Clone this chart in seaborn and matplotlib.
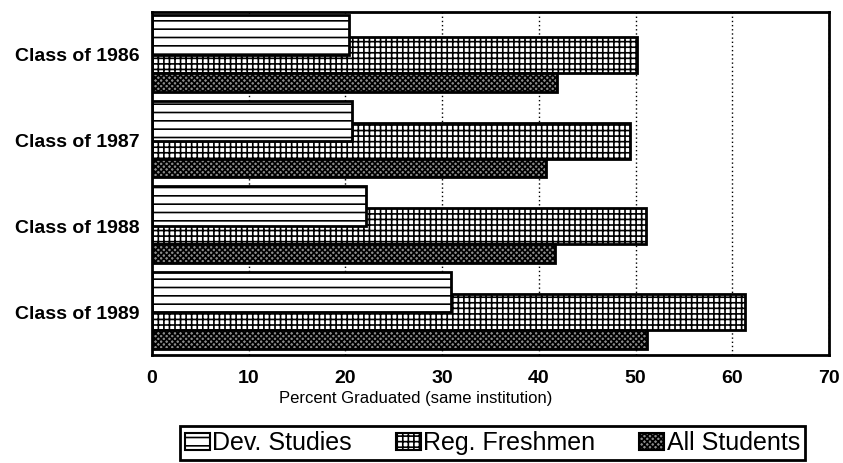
import pandas as pd
import matplotlib.pyplot as plt
import seaborn as sns
from matplotlib.patches import Patch

# Data
classes = ['Class of 1986', 'Class of 1987', 'Class of 1988', 'Class of 1989']
dev_studies = [20.4, 20.7, 22.1, 30.9]
reg_freshmen = [50.2, 49.4, 51.1, 61.3]
all_students = [41.9, 40.7, 41.7, 51.2]
series_names = ['Dev. Studies', 'Reg. Freshmen', 'All Students']

df = pd.DataFrame({'Class': classes, 'Dev. Studies': dev_studies,
                   'Reg. Freshmen': reg_freshmen, 'All Students': all_students})

sns.set_style('white')
plt.rcParams['font.family'] = ['Liberation Sans', 'DejaVu Sans']
plt.rcParams['text.color'] = 'black'
plt.rcParams['xtick.color'] = 'black'
plt.rcParams['ytick.color'] = 'black'
plt.rcParams['axes.labelcolor'] = 'black'
plt.rcParams['hatch.linewidth'] = 1.2
plt.rcParams['hatch.color'] = 'black'

fig = plt.figure(figsize=(8.43, 4.63), dpi=100)
ax = fig.add_axes([0.1803, 0.2333, 0.803, 0.741])

# style per series: (facecolor, hatch, bar height, offset from category centre)
styles = {
    'Reg. Freshmen': ('white', '+++', 0.42, 0.0),
    'Dev. Studies': ('white', '--', 0.466, -0.233),
    'All Students': ('0.55', 'xxxxxx', 0.22, 0.32),
}

# draw Reg. Freshmen first so Dev. Studies sits on top of it
for name in ['Reg. Freshmen', 'Dev. Studies', 'All Students']:
    fc, hatch, h, off = styles[name]
    n_before = len(ax.patches)
    sns.barplot(data=df, x=name, y='Class', orient='h', width=h, color=fc,
                edgecolor='black', linewidth=2, hatch=hatch, ax=ax, errorbar=None)
    for p in ax.patches[n_before:]:
        p.set_facecolor(fc)
        p.set_y(p.get_y() + off)

ax.set_xlim(0, 70)
ax.set_ylim(3.5, -0.5)
ax.set_xticks(range(0, 71, 10))
ax.xaxis.grid(True, linestyle=(0, (1, 2)), color='black', linewidth=1)
ax.set_axisbelow(True)
for s in ax.spines.values():
    s.set_visible(True)
    s.set_color('black')
    s.set_linewidth(2)

ax.tick_params(axis='x', length=0, pad=11, labelsize=14)
ax.tick_params(axis='y', length=0, pad=9, labelsize=14)
for lab in ax.get_xticklabels() + ax.get_yticklabels():
    lab.set_fontweight('bold')
ax.set_ylabel('')
ax.set_xlabel('Percent Graduated (same institution)', fontsize=12, va='center')
ax.xaxis.set_label_coords(0.39, -0.127)

handles = [Patch(facecolor=styles[n][0], edgecolor='black', hatch=styles[n][1], linewidth=1.5)
           for n in series_names]
leg = fig.legend(handles, series_names, loc='center', bbox_to_anchor=(0.584, 0.043),
                 ncol=3, fontsize=18, frameon=True, fancybox=False, edgecolor='black',
                 framealpha=1, handlelength=1.0, handleheight=0.65, handletextpad=0.1,
                 columnspacing=1.75, borderpad=0.2, borderaxespad=0)
leg.get_frame().set_linewidth(2)

fig.savefig('out.png', dpi=100)
